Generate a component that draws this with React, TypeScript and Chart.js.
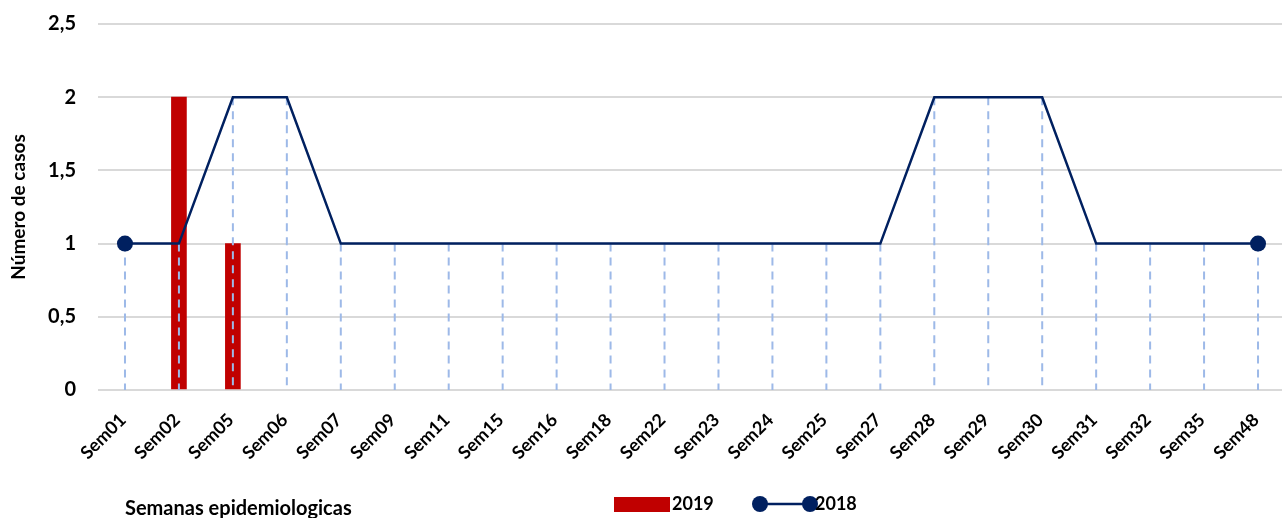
import React, { useEffect, useRef } from "react";
import { Chart, registerables } from "chart.js";

Chart.register(...registerables);

const categories = [
  "Sem01", "Sem02", "Sem05", "Sem06", "Sem07", "Sem09", "Sem11", "Sem15", "Sem16", "Sem18", "Sem22",
  "Sem23", "Sem24", "Sem25", "Sem27", "Sem28", "Sem29", "Sem30", "Sem31", "Sem32", "Sem35", "Sem48",
];
const cases2019: (number | null)[] = [
  null, 2, 1, null, null, null, null, null, null, null, null,
  null, null, null, null, null, null, null, null, null, null, null,
];
const cases2018 = [1, 1, 2, 2, 1, 1, 1, 1, 1, 1, 1, 1, 1, 1, 1, 2, 2, 2, 1, 1, 1, 1];
const yTicks = [0, 0.5, 1, 1.5, 2, 2.5];
const seriesNames = ["2019", "2018"];
const xTitle = "Semanas epidemiologicas";
const yTitle = "Número de casos";

const RED = "#C00000";
const NAVY = "#002060";
const DROP = "#9DB9E8";
const FONT = "Lato, 'DejaVu Sans', sans-serif";

const dropLines = {
  id: "dropLines",
  beforeDatasetDraw(chart: any, args: any) {
    if (args.index !== 1) return;
    const meta = chart.getDatasetMeta(1);
    const y0 = chart.scales.y.getPixelForValue(0);
    const ctx = chart.ctx;
    ctx.save();
    ctx.strokeStyle = DROP;
    ctx.lineWidth = 2;
    ctx.setLineDash([8, 6]);
    meta.data.forEach((pt: any) => {
      ctx.beginPath();
      ctx.moveTo(pt.x, pt.y);
      ctx.lineTo(pt.x, y0);
      ctx.stroke();
    });
    ctx.restore();
  },
};

const extras = {
  id: "extras",
  afterDraw(chart: any) {
    const ctx = chart.ctx;
    const xs = chart.scales.x;
    const y0 = chart.scales.y.getPixelForValue(0);
    ctx.save();
    // rotated category labels at the x scale's tick positions
    ctx.fillStyle = "#000";
    ctx.font = `bold 18px ${FONT}`;
    ctx.textAlign = "right";
    ctx.textBaseline = "middle";
    categories.forEach((label, i) => {
      const x = xs.getPixelForTick(i);
      ctx.save();
      ctx.translate(x - 2, y0 + 27);
      ctx.rotate(-Math.PI / 4);
      ctx.fillText(label, 0, 0);
      ctx.restore();
    });

    ctx.textBaseline = "alphabetic";
    ctx.textAlign = "left";
    ctx.font = `bold 20px ${FONT}`;
    ctx.fillText(xTitle, 125, 515);

    // legend
    ctx.font = `bold 18px ${FONT}`;
    ctx.textBaseline = "middle";
    ctx.fillStyle = RED;
    ctx.fillRect(614, 497, 56, 15);
    ctx.fillStyle = "#000";
    ctx.fillText(seriesNames[0], 672, 504);

    ctx.strokeStyle = NAVY;
    ctx.lineWidth = 2.5;
    ctx.beginPath();
    ctx.moveTo(760, 504);
    ctx.lineTo(810, 504);
    ctx.stroke();
    ctx.fillStyle = NAVY;
    [760, 810].forEach((cx) => {
      ctx.beginPath();
      ctx.arc(cx, 504, 8, 0, Math.PI * 2);
      ctx.fill();
    });
    ctx.fillStyle = "#000";
    ctx.fillText(seriesNames[1], 815, 504);
    ctx.restore();
  },
};

export default function App() {
  const ref = useRef<HTMLCanvasElement>(null);
  useEffect(() => {
    if (!ref.current) return;
    const n = cases2018.length;
    const chart = new Chart(ref.current, {
      type: "bar",
      data: {
        labels: categories,
        datasets: [
          {
            type: "bar",
            label: seriesNames[0],
            data: cases2019,
            backgroundColor: RED,
            barThickness: 15,
            order: 2,
          },
          {
            type: "line",
            label: seriesNames[1],
            data: cases2018,
            borderColor: NAVY,
            borderWidth: 2.5,
            backgroundColor: NAVY,
            pointRadius: cases2018.map((_, i) => (i === 0 || i === n - 1 ? 8 : 0)),
            pointHoverRadius: 0,
            pointBackgroundColor: NAVY,
            pointBorderWidth: 0,
            tension: 0,
            order: 1,
          } as any,
        ],
      },
      options: {
        animation: false,
        responsive: false,
        maintainAspectRatio: false,
        layout: { padding: { top: 24, left: 0, right: 0, bottom: 0 } },
        plugins: { legend: { display: false }, tooltip: { enabled: false } },
        scales: {
          x: {
            offset: true,
            grid: { display: false, drawTicks: false },
            border: { display: false },
            ticks: { display: false, autoSkip: false },
            afterFit(scale: any) {
              scale.height = 128;
              scale.paddingLeft = 0;
              scale.paddingRight = 0;
            },
          },
          y: {
            min: 0,
            max: 2.5,
            afterBuildTicks(scale: any) {
              scale.ticks = yTicks.map((v) => ({ value: v }));
            },
            grid: { color: "#D9D9D9", lineWidth: 2, drawTicks: false },
            border: { display: false },
            ticks: {
              color: "#000",
              font: { family: FONT, size: 20, weight: "bold" },
              padding: 22,
              callback: (v: any) => String(v).replace(".", ","),
            },
            title: {
              display: true,
              text: yTitle,
              color: "#000",
              font: { family: FONT, size: 19, weight: "bold" },
              padding: { top: 7, bottom: 0 },
            },
            afterFit(scale: any) {
              scale.width = 98;
              scale.paddingTop = 0;
              scale.paddingBottom = 0;
            },
          },
        },
      },
      plugins: [dropLines, extras],
    });
    return () => chart.destroy();
  }, []);
  return (
    <div style={{ position: "fixed", left: 0, top: 0, width: 1282, height: 518, overflow: "hidden", background: "#fff" }}>
      <canvas ref={ref} width={1293} height={518} style={{ width: 1293, height: 518, display: "block" }} />
    </div>
  );
}
